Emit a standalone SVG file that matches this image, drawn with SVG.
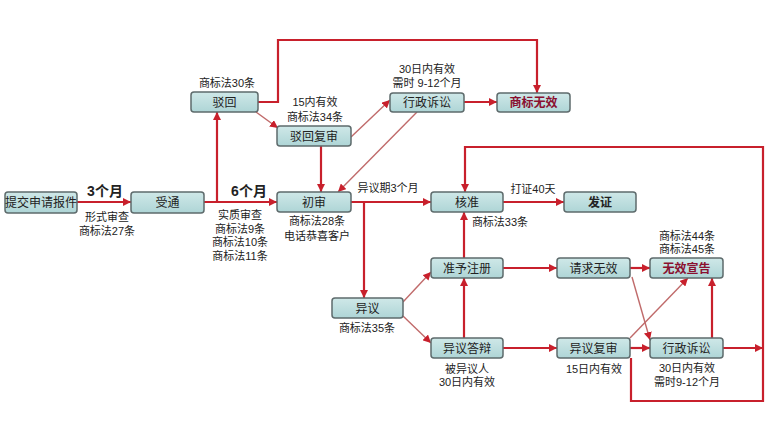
<svg xmlns="http://www.w3.org/2000/svg" width="769" height="421" viewBox="0 0 769 421">
<defs>
<marker id="ah" viewBox="0 0 10 10" refX="10" refY="5" markerWidth="8" markerHeight="8" markerUnits="userSpaceOnUse" orient="auto">
<path d="M0,0 L10,5 L0,10 z" fill="#c8202c"/>
</marker>
<linearGradient id="bg" x1="0" y1="0" x2="0" y2="1">
<stop offset="0" stop-color="#cfe8e8"/>
<stop offset="1" stop-color="#aed5d6"/>
</linearGradient>
</defs>
<style>
text{font-family:"Liberation Sans","Noto Sans CJK SC",sans-serif;fill:#222;}
.box{fill:url(#bg);stroke:#5e6b6c;stroke-width:1.5;}
.bt{font-size:12px;text-anchor:middle;}
.bb{font-size:12px;text-anchor:middle;font-weight:bold;}
.bm{font-size:12px;text-anchor:middle;font-weight:bold;fill:#8a1030;}
.lb{font-size:11px;text-anchor:middle;}
.big{font-size:14px;font-weight:bold;text-anchor:middle;}
.c{fill:none;stroke:#c8202c;stroke-width:2.2;}
.t{fill:none;stroke:#c06a6a;stroke-width:1.4;}
</style>
<rect width="769" height="421" fill="#fff"/>
<g id="connectors">
<path class="c" d="M77,202 H131" marker-end="url(#ah)"/>
<path class="c" d="M204,202 H277" marker-end="url(#ah)"/>
<path class="c" d="M217,202 V112" marker-end="url(#ah)"/>
<path class="t" d="M256,112 L278,128" marker-end="url(#ah)"/>
<path class="c" d="M258,102 H278 V40 H537 V93" marker-end="url(#ah)"/>
<path class="c" d="M321,146 V192" marker-end="url(#ah)"/>
<path class="t" d="M351,137 L390,100" marker-end="url(#ah)"/>
<path class="t" d="M417,112 L338,192" marker-end="url(#ah)"/>
<path class="c" d="M464,102 H497" marker-end="url(#ah)"/>
<path class="c" d="M351,202 H431" marker-end="url(#ah)"/>
<path class="c" d="M364,202 V298" marker-end="url(#ah)"/>
<path class="t" d="M403,302 L431,272" marker-end="url(#ah)"/>
<path class="t" d="M403,316 L431,343" marker-end="url(#ah)"/>
<path class="c" d="M464,338 V278" marker-end="url(#ah)"/>
<path class="c" d="M464,258 V212" marker-end="url(#ah)"/>
<path class="c" d="M503,202 H564" marker-end="url(#ah)"/>
<path class="c" d="M503,268 H557" marker-end="url(#ah)"/>
<path class="c" d="M503,348 H557" marker-end="url(#ah)"/>
<path class="c" d="M630,268 H650" marker-end="url(#ah)"/>
<path class="t" d="M632,277 L650,340" marker-end="url(#ah)"/>
<path class="t" d="M630,338 L688,278" marker-end="url(#ah)"/>
<path class="c" d="M630,348 H650" marker-end="url(#ah)"/>
<path class="c" d="M712,338 V278" marker-end="url(#ah)"/>
<path class="c" d="M723,348 H763" marker-end="url(#ah)"/>
<path class="c" d="M631,358 V401 H763 V147 H465 V192" marker-end="url(#ah)"/>
</g>
<g id="n1"><rect class="box" x="5" y="192" width="72" height="21" rx="3"/><text class="bt" x="41" y="207">提交申请报件</text></g>
<g id="n2"><rect class="box" x="131" y="192" width="73" height="21" rx="3"/><text class="bt" x="167.5" y="207">受通</text></g>
<g id="n3"><rect class="box" x="191" y="92" width="67" height="20" rx="3"/><text class="bt" x="224.5" y="106.5">驳回</text></g>
<g id="n4"><rect class="box" x="277" y="126" width="74" height="20" rx="3"/><text class="bt" x="314" y="140.5">驳回复审</text></g>
<g id="n5"><rect class="box" x="390" y="93" width="74" height="19" rx="3"/><text class="bt" x="427" y="107">行政诉讼</text></g>
<g id="n6"><rect class="box" x="497" y="93" width="73" height="19" rx="3"/><text class="bm" x="533.5" y="107">商标无效</text></g>
<g id="n7"><rect class="box" x="277" y="192" width="74" height="20" rx="3"/><text class="bt" x="314" y="206.5">初审</text></g>
<g id="n8"><rect class="box" x="431" y="192" width="72" height="20" rx="3"/><text class="bt" x="467" y="206.5">核准</text></g>
<g id="n9"><rect class="box" x="564" y="192" width="72" height="20" rx="3"/><text class="bb" x="600" y="206.5">发证</text></g>
<g id="n10"><rect class="box" x="332" y="298" width="71" height="20" rx="3"/><text class="bt" x="367.5" y="312.5">异议</text></g>
<g id="n11"><rect class="box" x="431" y="258" width="72" height="20" rx="3"/><text class="bt" x="467" y="272.5">准予注册</text></g>
<g id="n12"><rect class="box" x="431" y="338" width="72" height="20" rx="3"/><text class="bt" x="467" y="352.5">异议答辩</text></g>
<g id="n13"><rect class="box" x="557" y="258" width="73" height="20" rx="3"/><text class="bt" x="593.5" y="272.5">请求无效</text></g>
<g id="n14"><rect class="box" x="557" y="338" width="73" height="20" rx="3"/><text class="bt" x="593.5" y="352.5">异议复审</text></g>
<g id="n15"><rect class="box" x="650" y="258" width="73" height="20" rx="3"/><text class="bm" x="686.5" y="272.5">无效宣告</text></g>
<g id="n16"><rect class="box" x="650" y="338" width="73" height="20" rx="3"/><text class="bt" x="686.5" y="352.5">行政诉讼</text></g>
<g id="labels">
<text class="lb" x="227" y="87">商标法30条</text>
<text class="big" x="105" y="196">3个月</text>
<text class="big" x="249" y="196">6个月</text>
<text class="lb" x="107" y="221">形式审查</text>
<text class="lb" x="107" y="234.5">商标法27条</text>
<text class="lb" x="240" y="219">实质审查</text>
<text class="lb" x="240" y="232.5">商标法9条</text>
<text class="lb" x="240" y="246">商标法10条</text>
<text class="lb" x="240" y="259.5">商标法11条</text>
<text class="lb" x="315" y="106">15内有效</text>
<text class="lb" x="315" y="120.5">商标法34条</text>
<text class="lb" x="427" y="73">30日内有效</text>
<text class="lb" x="427" y="87">需时 9-12个月</text>
<text class="lb" x="388" y="192">异议期3个月</text>
<text class="lb" x="317" y="225">商标法28条</text>
<text class="lb" x="317" y="239.5">电话恭喜客户</text>
<text class="lb" x="533" y="193">打证40天</text>
<text class="lb" x="500" y="226">商标法33条</text>
<text class="lb" x="367" y="332">商标法35条</text>
<text class="lb" x="467" y="372.5">被异议人</text>
<text class="lb" x="467" y="386">30日内有效</text>
<text class="lb" x="594" y="373">15日内有效</text>
<text class="lb" x="687" y="239.5">商标法44条</text>
<text class="lb" x="687" y="253">商标法45条</text>
<text class="lb" x="687" y="372">30日内有效</text>
<text class="lb" x="687" y="386">需时9-12个月</text>
</g>
</svg>
